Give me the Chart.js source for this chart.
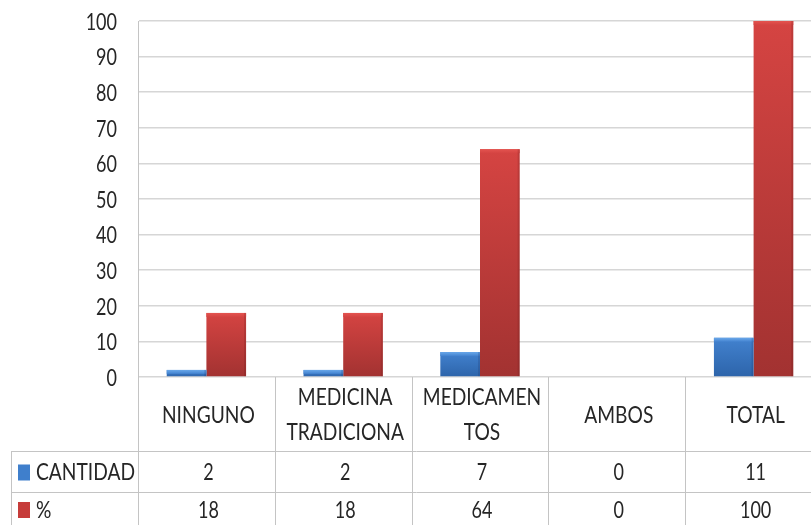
<!DOCTYPE html>
<html>
<head>
<meta charset="utf-8">
<script src="https://cdn.jsdelivr.net/npm/chart.js@4/dist/chart.umd.min.js"></script>
<style>
  html, body { margin: 0; padding: 0; background: #ffffff; overflow: hidden; width: 811px; height: 525px; }
  canvas { display: block; }
</style>
</head>
<body>
<canvas id="c" width="822" height="525"></canvas>
<script>
// Categories (header row of the data table, split over lines)
const categories = [['NINGUNO'], ['MEDICINA', 'TRADICIONA'], ['MEDICAMEN', 'TOS'], ['AMBOS'], ['TOTAL']];
// Series
const seriesNames = ['CANTIDAD', '%'];
const cantidad = [2, 2, 7, 0, 11];
const porcentaje = [18, 18, 64, 0, 100];
// Value axis
const yMin = 0, yMax = 100, yStep = 10;

const FONT = 'Lato, "Open Sans", sans-serif';
const SX_NUM = 0.75;       // condensed digits
const SX_TXT = 0.8;        // condensed words
const TEXT = '#262626';
const LINE = '#c4c4c4';

const palette = [
  { top: '#6aa8ea', mid: '#4282cf', bot: '#2d64aa', key: '#3f7fcc' },
  { top: '#e45450', mid: '#d54442', bot: '#a23231', key: '#c63c3a' }
];

function barFill(ctx) {
  const chart = ctx.chart;
  const pal = palette[ctx.datasetIndex];
  if (!chart.chartArea) return pal.mid;
  const y = chart.scales.y;
  const top = y.getPixelForValue(ctx.raw);
  const bottom = y.getPixelForValue(0);
  if (!(bottom - top > 0)) return pal.mid;
  const g = chart.ctx.createLinearGradient(0, top, 0, bottom);
  g.addColorStop(0, pal.mid);
  g.addColorStop(1, pal.bot);
  return g;
}

function squeezedText(c, str, x, y, align, sx) {
  c.save();
  c.translate(x, y);
  c.scale(sx, 1);
  c.textAlign = align;
  c.textBaseline = 'middle';
  c.fillText(str, 0, 0);
  c.restore();
}

// Bevel highlight on the top edge of each bar
const bevel = {
  id: 'bevel',
  afterDatasetsDraw(chart) {
    const c = chart.ctx;
    chart.data.datasets.forEach((ds, di) => {
      const meta = chart.getDatasetMeta(di);
      meta.data.forEach((bar) => {
        const h = bar.base - bar.y;
        if (h < 1) return;
        const left = bar.x - bar.width / 2;
        const bh = Math.min(4, h);
        const g = c.createLinearGradient(0, bar.y, 0, bar.y + bh);
        g.addColorStop(0, palette[di].top);
        g.addColorStop(1, palette[di].mid);
        c.save();
        c.fillStyle = g;
        c.fillRect(left, bar.y, bar.width, bh);
        // darker right edge
        c.fillStyle = di === 0 ? 'rgba(20,40,90,0.18)' : 'rgba(90,20,20,0.18)';
        c.fillRect(bar.x + bar.width / 2 - 2, bar.y, 2, h);
        c.restore();
      });
    });
  }
};

// Y tick labels and the data table under the plot
const tablePlugin = {
  id: 'dataTable',
  afterDraw(chart) {
    const c = chart.ctx;
    const area = chart.chartArea;
    const x = chart.scales.x;
    const y = chart.scales.y;
    const n = categories.length;
    const colW = (area.right - area.left) / n;

    c.save();
    c.fillStyle = TEXT;
    c.font = '24px ' + FONT;
    // value axis labels
    y.ticks.forEach((t) => {
      squeezedText(c, String(t.value), area.left - 21, y.getPixelForValue(t.value) + 1, 'right', SX_NUM);
    });

    const headTop = area.bottom;
    const row1 = 451, row2 = 492, tableBottom = 540;
    const legendLeft = 11;

    // grid lines of the table
    c.strokeStyle = LINE;
    c.lineWidth = 1;
    c.beginPath();
    for (let i = 0; i <= n; i++) {
      const bx = Math.round(area.left + i * colW) + 0.5;
      c.moveTo(bx, headTop);
      c.lineTo(bx, tableBottom);
    }
    c.moveTo(legendLeft + 0.5, row1);
    c.lineTo(legendLeft + 0.5, tableBottom);
    c.moveTo(legendLeft, row1 + 0.5);
    c.lineTo(area.right, row1 + 0.5);
    c.moveTo(legendLeft, row2 + 0.5);
    c.lineTo(area.right, row2 + 0.5);
    c.stroke();

    // category header row
    c.fillStyle = TEXT;
    const headMid = (headTop + row1) / 2 + 1;
    categories.forEach((lines, i) => {
      const cx = x.getPixelForValue(i) + 2;
      const lh = 35;
      const y0 = headMid - (lines.length - 1) * lh / 2;
      lines.forEach((ln, k) => squeezedText(c, ln, cx, y0 + k * lh, 'center', SX_TXT));
    });

    // series rows
    const rows = [cantidad, porcentaje];
    const rowMid = [(row1 + row2) / 2 + 1, 510];
    rows.forEach((vals, r) => {
      c.fillStyle = palette[r].key;
      c.fillRect(18, rowMid[r] - 8, 12, 16);
      c.fillStyle = TEXT;
      squeezedText(c, seriesNames[r], 36, rowMid[r], 'left', SX_TXT);
      vals.forEach((v, i) => squeezedText(c, String(v), x.getPixelForValue(i) + 2, rowMid[r], 'center', SX_NUM));
    });
    c.restore();
  }
};

new Chart(document.getElementById('c'), {
  type: 'bar',
  data: {
    labels: categories.map(l => l.join(' ')),
    datasets: [
      { label: seriesNames[0], data: cantidad, backgroundColor: barFill, borderWidth: 0 },
      { label: seriesNames[1], data: porcentaje, backgroundColor: barFill, borderWidth: 0 }
    ]
  },
  options: {
    responsive: false,
    animation: false,
    devicePixelRatio: 1,
    layout: { padding: { left: 138, top: 21, right: 0, bottom: 148 } },
    datasets: { bar: { categoryPercentage: 0.58, barPercentage: 1.0 } },
    plugins: { legend: { display: false }, tooltip: { enabled: false } },
    scales: {
      x: {
        grid: { display: false, drawTicks: false },
        border: { display: false },
        ticks: { display: false }
      },
      y: {
        min: yMin, max: yMax,
        ticks: { display: false, stepSize: yStep },
        grid: { color: '#d6d6d6', lineWidth: 1.5, drawTicks: false },
        border: { display: true, color: LINE, width: 1 }
      }
    }
  },
  plugins: [bevel, tablePlugin]
});
</script>
</body>
</html>
